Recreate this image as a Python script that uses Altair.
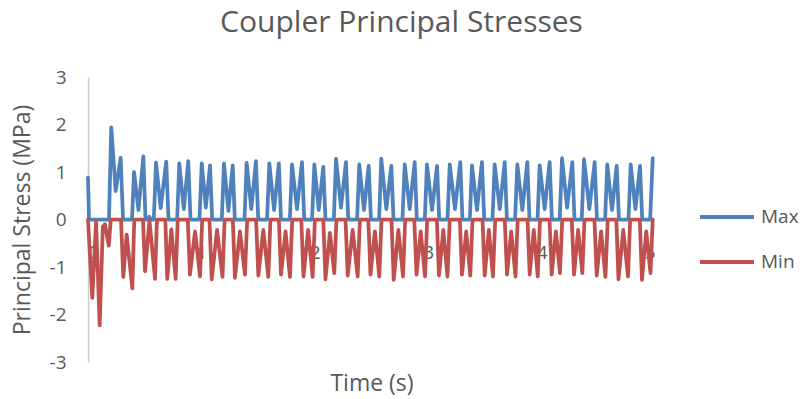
import altair as alt
import pandas as pd

# Maximum principal stress (MPa) vs time (s)
max_t = [0.000, 0.009, 0.185, 0.205, 0.244, 0.288, 0.309, 0.388, 0.406, 0.445, 0.488, 0.507,
         0.525, 0.541, 0.556, 0.580, 0.600, 0.641, 0.690, 0.710,
         0.786, 0.805, 0.845, 0.884, 0.904,
         0.983, 1.003, 1.039, 1.076, 1.095,
         1.180, 1.199, 1.238, 1.276, 1.295,
         1.380, 1.399, 1.440, 1.481, 1.501,
         1.579, 1.599, 1.641, 1.683, 1.702,
         1.780, 1.799, 1.843, 1.887, 1.907,
         1.976, 1.996, 2.035, 2.075, 2.094,
         2.168, 2.187, 2.231, 2.275, 2.295,
         2.373, 2.392, 2.434, 2.475, 2.495,
         2.567, 2.586, 2.631, 2.675, 2.694,
         2.773, 2.793, 2.837, 2.881, 2.900,
         2.970, 2.989, 3.034, 3.078, 3.097,
         3.170, 3.190, 3.236, 3.283, 3.302,
         3.367, 3.386, 3.430, 3.474, 3.494,
         3.567, 3.586, 3.631, 3.675, 3.694,
         3.766, 3.786, 3.830, 3.874, 3.893,
         3.964, 3.983, 4.027, 4.071, 4.091,
         4.160, 4.180, 4.225, 4.271, 4.290,
         4.354, 4.374, 4.421, 4.468, 4.488,
         4.560, 4.579, 4.621, 4.662, 4.682,
         4.766, 4.786, 4.827, 4.868, 4.887,
         4.957, 4.980]
max_mpa = [0.88, 0.00, 0.00, 1.94, 0.60, 1.30, 0.00, 0.00, 1.00, 0.20, 1.33, 0.00,
           0.00, 0.06, 0.00, 0.00, 1.20, 0.24, 1.22, 0.00,
           0.00, 1.18, 0.22, 1.23, 0.00,
           0.00, 1.18, 0.25, 1.14, 0.00,
           0.00, 1.18, 0.18, 1.14, 0.00,
           0.00, 1.19, 0.22, 1.23, 0.00,
           0.00, 1.18, 0.20, 1.18, 0.00,
           0.00, 1.16, 0.22, 1.21, 0.00,
           0.00, 1.16, 0.20, 1.11, 0.00,
           0.00, 1.28, 0.25, 1.21, 0.00,
           0.00, 1.16, 0.20, 1.13, 0.00,
           0.00, 1.28, 0.22, 1.13, 0.00,
           0.00, 1.16, 0.22, 1.21, 0.00,
           0.00, 1.16, 0.20, 1.13, 0.00,
           0.00, 1.16, 0.22, 1.21, 0.00,
           0.00, 1.14, 0.20, 1.21, 0.00,
           0.00, 1.16, 0.22, 1.21, 0.00,
           0.00, 1.16, 0.20, 1.21, 0.00,
           0.00, 1.14, 0.22, 1.21, 0.00,
           0.00, 1.29, 0.25, 1.21, 0.00,
           0.00, 1.27, 0.22, 1.21, 0.00,
           0.00, 1.16, 0.20, 1.13, 0.00,
           0.00, 1.16, 0.22, 1.13, 0.00,
           0.00, 1.29]

# Minimum principal stress (MPa) vs time (s)
min_t = [0.000, 0.038, 0.071, 0.103, 0.131, 0.150, 0.183, 0.201,
         0.291, 0.311, 0.341, 0.391, 0.408,
         0.485, 0.503, 0.542, 0.591, 0.608,
         0.682, 0.699, 0.735, 0.773, 0.791,
         0.880, 0.899, 0.944, 0.988, 1.007,
         1.071, 1.091, 1.138, 1.186, 1.205,
         1.277, 1.296, 1.340, 1.384, 1.404,
         1.482, 1.502, 1.546, 1.590, 1.609,
         1.683, 1.702, 1.742, 1.781, 1.801,
         1.881, 1.900, 1.941, 1.981, 2.001,
         2.075, 2.094, 2.133, 2.172, 2.191,
         2.271, 2.290, 2.334, 2.378, 2.398,
         2.472, 2.491, 2.530, 2.569, 2.588,
         2.676, 2.696, 2.737, 2.778, 2.797,
         2.877, 2.897, 2.934, 2.972, 2.991,
         3.076, 3.095, 3.133, 3.170, 3.190,
         3.279, 3.298, 3.335, 3.371, 3.391,
         3.479, 3.498, 3.535, 3.571, 3.591,
         3.675, 3.695, 3.732, 3.770, 3.789,
         3.876, 3.895, 3.931, 3.966, 3.986,
         4.070, 4.089, 4.126, 4.162, 4.182,
         4.266, 4.286, 4.322, 4.359, 4.378,
         4.466, 4.486, 4.525, 4.563, 4.583,
         4.659, 4.678, 4.720, 4.762, 4.781,
         4.866, 4.885, 4.923, 4.960, 4.980]
min_mpa = [0.00, -1.65, -0.05, -2.23, -0.15, -0.10, -0.55, 0.00,
           0.00, -1.21, -0.32, -1.45, 0.00,
           0.00, -1.09, -0.02, -1.25, 0.00,
           0.00, -1.25, -0.21, -1.25, 0.00,
           0.00, -1.16, -0.25, -1.20, 0.00,
           0.00, -1.26, -0.22, -1.21, 0.00,
           0.00, -1.23, -0.25, -1.16, 0.00,
           0.00, -1.18, -0.22, -1.21, 0.00,
           0.00, -1.16, -0.25, -1.21, 0.00,
           0.00, -1.20, -0.22, -1.21, 0.00,
           0.00, -1.26, -0.28, -1.13, 0.00,
           0.00, -1.18, -0.22, -1.20, 0.00,
           0.00, -1.16, -0.25, -1.20, 0.00,
           0.00, -1.27, -0.22, -1.20, 0.00,
           0.00, -1.16, -0.25, -1.20, 0.00,
           0.00, -1.18, -0.22, -1.20, 0.00,
           0.00, -1.16, -0.25, -1.18, 0.00,
           0.00, -1.18, -0.22, -1.20, 0.00,
           0.00, -1.16, -0.25, -1.20, 0.00,
           0.00, -1.16, -0.22, -1.20, 0.00,
           0.00, -1.16, -0.25, -1.13, 0.00,
           0.00, -1.16, -0.22, -1.13, 0.00,
           0.00, -1.18, -0.25, -1.21, 0.00,
           0.00, -1.26, -0.22, -1.20, 0.00,
           0.00, -1.27, -0.25, -1.13, 0.00]

series_names = ["Max", "Min"]
series_colors = ["#4F81BD", "#C0504D"]
y_ticks = [-3, -2, -1, 0, 1, 2, 3]
x_ticks = [0, 1, 2, 3, 4, 5]

df = pd.concat([
    pd.DataFrame({"t": max_t, "stress": max_mpa, "series": series_names[0], "order": range(len(max_t))}),
    pd.DataFrame({"t": min_t, "stress": min_mpa, "series": series_names[1], "order": range(len(min_t))}),
])

FONT = "Open Sans"
GREY = "#595959"
W, H = 567, 285

chart = alt.Chart(df).mark_line(
    strokeWidth=3.75, strokeJoin="round", strokeCap="round"
).encode(
    x=alt.X("t:Q", scale=alt.Scale(domain=[0, 5], nice=False, zero=False),
            axis=alt.Axis(values=x_ticks, labelExpr="'' + datum.value", title="Time (s)", offset=-H / 2,
                          ticks=False, grid=False, domainColor="#d9d9d9", domainWidth=1,
                          labelPadding=24, labelFontSize=19, labelColor=GREY, labelFont=FONT,
                          titleFontSize=23, titleColor=GREY, titleFont=FONT, titleFontWeight="normal",
                          titleY=164, titleBaseline="middle")),
    y=alt.Y("stress:Q", scale=alt.Scale(domain=[-3, 3], nice=False),
            axis=alt.Axis(values=y_ticks, labelExpr="'' + datum.value", title="Principal Stress (MPa)",
                          ticks=False, grid=False, domainColor="#cccccc", domainWidth=1.5,
                          labelPadding=22, labelFontSize=19, labelColor=GREY, labelFont=FONT,
                          titleFontSize=23, titleColor=GREY, titleFont=FONT, titleFontWeight="normal",
                          titleX=-66, titleBaseline="middle")),
    color=alt.Color("series:N", scale=alt.Scale(domain=series_names, range=series_colors),
                    legend=alt.Legend(title=None, orient="none", legendX=610, legendY=111,
                                      symbolType="stroke", symbolSize=2916, symbolStrokeWidth=4,
                                      labelFontSize=19, labelColor=GREY, labelFont=FONT,
                                      labelOffset=5, rowPadding=6)),
    order="order:Q",
).properties(
    width=W, height=H,
    title=alt.Title("Coupler Principal Stresses", font=FONT, fontSize=30, color=GREY,
                    fontWeight="normal", anchor="middle", dx=30, offset=30),
    autosize=alt.AutoSizeParams(type="none"),
    padding={"left": 88, "top": 77, "right": 147, "bottom": 37},
).configure_view(stroke=None)

chart.save("out.html", embed_options={"renderer": "svg", "actions": False})
